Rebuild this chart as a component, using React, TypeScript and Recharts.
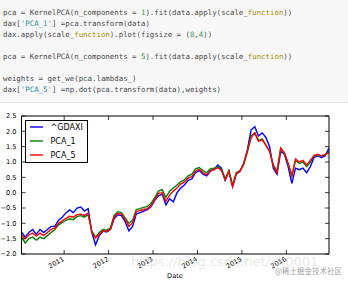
import React from 'react';
import { LineChart, Line, XAxis, YAxis } from 'recharts';

// monthly points, Jan 2010 .. Dec 2016
const startYear = 2010;
const gdaxi = [
  -1.28, -1.45, -1.3, -1.2, -1.35, -1.2, -1.3, -1.2, -1.1, -1.1, -0.9, -0.8,
  -0.66, -0.56, -0.65, -0.5, -0.47, -0.6, -0.52, -1.3, -1.7, -1.4, -1.25, -1.28,
  -1.2, -0.85, -0.72, -0.75, -0.95, -1.25, -1.1, -0.7, -0.65, -0.6, -0.55, -0.45,
  -0.25, -0.1, -0.05, -0.4, -0.2, -0.3, 0.0, 0.15, 0.25, 0.4, 0.45, 0.65,
  0.72, 0.6, 0.55, 0.7, 0.75, 0.9, 0.8, 0.4, 0.7, 0.2, 0.6, 0.7,
  0.95, 1.4, 2.05, 2.15, 1.85, 1.95, 1.8, 1.5, 0.8, 0.6, 1.35, 1.25,
  0.85, 0.3, 0.8, 0.75, 0.8, 0.65, 0.85, 1.15, 1.2, 1.15, 1.2, 1.45,
];
const pca1 = [
  -1.45, -1.64, -1.5, -1.45, -1.55, -1.45, -1.5, -1.4, -1.3, -1.2, -1.05, -0.98,
  -0.9, -0.85, -0.88, -0.78, -0.75, -0.8, -0.72, -1.25, -1.45, -1.3, -1.2, -1.22,
  -1.15, -0.75, -0.62, -0.65, -0.82, -1.0, -0.9, -0.55, -0.52, -0.48, -0.45, -0.35,
  -0.15, 0.05, 0.1, -0.15, 0.05, 0.15, 0.25, 0.35, 0.42, 0.55, 0.6, 0.78,
  0.82, 0.72, 0.65, 0.78, 0.8, 0.85, 0.75, 0.45, 0.72, 0.25, 0.65, 0.72,
  0.95, 1.35, 1.85, 1.95, 1.7, 1.75, 1.55, 1.35, 0.9, 0.7, 1.45, 1.3,
  0.95, 0.55, 1.05, 0.95, 1.0, 0.85, 1.0, 1.2, 1.22, 1.2, 1.22, 1.35,
];
const pca5 = [
  -1.38, -1.5, -1.38, -1.32, -1.42, -1.32, -1.4, -1.3, -1.2, -1.15, -1.0, -0.92,
  -0.84, -0.77, -0.8, -0.72, -0.7, -0.75, -0.66, -1.3, -1.48, -1.35, -1.25, -1.25,
  -1.2, -0.8, -0.68, -0.7, -0.88, -1.1, -0.98, -0.62, -0.58, -0.55, -0.52, -0.42,
  -0.22, -0.02, 0.0, -0.28, -0.08, 0.05, 0.15, 0.28, 0.35, 0.48, 0.52, 0.7,
  0.76, 0.65, 0.58, 0.72, 0.75, 0.82, 0.72, 0.42, 0.7, 0.2, 0.62, 0.7,
  0.92, 1.33, 1.8, 1.95, 1.68, 1.72, 1.55, 1.35, 0.88, 0.65, 1.45, 1.3,
  0.95, 0.55, 1.1, 1.0, 1.05, 0.9, 1.05, 1.22, 1.25, 1.2, 1.25, 1.3,
];
const yearTicks = [2011, 2012, 2013, 2014, 2015, 2016];
const valueTicks = [-2, -1.5, -1, -0.5, 0, 0.5, 1, 1.5, 2, 2.5];
const seriesNames = ['^GDAXI', 'PCA_1', 'PCA_5'];
const seriesColors = ['#0000ff', '#008000', '#ff0000'];

const rows = gdaxi.map((v, i) => ({
  t: startYear + 0.04 + i / 12,
  gdaxi: v,
  pca1: pca1[i],
  pca5: pca5[i],
}));

// code cell text, token colours
const TXT = '#4a4a4a';
const NUM = '#2e9e4f';
const STR = '#2a8fa8';
const KW = '#a59000';
const codeLines: [string, string][][] = [
  [['pca = KernelPCA(n_components = ', TXT], ['1', NUM], [').fit(data.apply(scale_', TXT], ['function', KW], ['))', TXT]],
  [['dax[', TXT], ["'PCA_1'", STR], ['] =pca.transform(data)', TXT]],
  [['dax.apply(scale_', TXT], ['function', KW], [').plot(figsize = (', TXT], ['8', NUM], [',', TXT], ['4', NUM], ['))', TXT]],
  [],
  [['pca = KernelPCA(n_components = ', TXT], ['5', NUM], [').fit(data.apply(scale_', TXT], ['function', KW], ['))', TXT]],
  [],
  [['weights = get_we(pca.lambdas_)', TXT]],
  [['dax[', TXT], ["'PCA_5'", STR], ['] =np.dot(pca.transform(data),weights)', TXT]],
];

const tickFont = { fontFamily: 'DejaVu Sans', fontSize: 6.6, fill: '#000' };

const BottomTick = ({ x, y, payload }: any) => (
  <g>
    <line x1={x} y1={y} x2={x} y2={y - 4} stroke="#000" strokeWidth={0.8} />
    <text
      transform={`translate(${x - 2},${y + 2}) rotate(-30)`}
      textAnchor="end"
      dy="0.75em"
      {...tickFont}
    >
      {payload.value}
    </text>
  </g>
);

const TopTick = ({ x, y }: any) => (
  <line x1={x} y1={y} x2={x} y2={y + 4} stroke="#000" strokeWidth={0.8} />
);

const LeftTick = ({ x, y, payload }: any) => (
  <g>
    <line x1={x} y1={y} x2={x + 4} y2={y} stroke="#000" strokeWidth={0.8} />
    <text x={x - 5} y={y} dy="0.35em" textAnchor="end" {...tickFont}>
      {Number(payload.value).toFixed(1).replace('-', '\u2212')}
    </text>
  </g>
);

const RightTick = ({ x, y }: any) => (
  <line x1={x} y1={y} x2={x - 4} y2={y} stroke="#000" strokeWidth={0.8} />
);

export default function App() {
  const axisLine = { stroke: '#000', strokeWidth: 1 };
  return (
    <div style={{ position: 'absolute', left: 0, top: 0, width: 348, height: 283, background: '#fff', overflow: 'hidden' }}>
      <div
        style={{
          position: 'absolute', left: 0, top: 0, width: 348, height: 102,
          background: '#f7f7f7', borderBottom: '1px solid #e4e4e4',
        }}
      >
        {codeLines.map((line, k) => (
          <div
            key={k}
            style={{
              position: 'absolute', left: 3, top: 7.2 + k * 11, whiteSpace: 'pre',
              fontFamily: 'DejaVu Sans Mono', fontSize: 7.4, lineHeight: '11px',
            }}
          >
            {line.map(([s, c], j) => (
              <span key={j} style={{ color: c }}>{s}</span>
            ))}
          </div>
        ))}
      </div>

      <div style={{ position: 'absolute', left: 0, top: 0 }}>
        <LineChart width={348} height={283} data={rows} margin={{ top: 115, right: 18, bottom: 1, left: 1.5 }}>
          <XAxis
            xAxisId="b" dataKey="t" type="number" domain={[2010.04, 2016.96]} ticks={yearTicks}
            allowDataOverflow height={28} tickSize={0} tickMargin={0} interval={0}
            axisLine={axisLine} tickLine={false} tick={<BottomTick />}
          />
          <XAxis
            xAxisId="t" orientation="top" dataKey="t" type="number" domain={[2010.04, 2016.96]} ticks={yearTicks}
            allowDataOverflow height={1} tickSize={0} tickMargin={0} interval={0}
            axisLine={axisLine} tickLine={false} tick={<TopTick />}
          />
          <YAxis
            yAxisId="l" type="number" domain={[-2, 2.5]} ticks={valueTicks} allowDataOverflow
            width={20} tickSize={0} tickMargin={0} interval={0}
            axisLine={axisLine} tickLine={false} tick={<LeftTick />}
          />
          <YAxis
            yAxisId="r" orientation="right" type="number" domain={[-2, 2.5]} ticks={valueTicks} allowDataOverflow
            width={1} tickSize={0} tickMargin={0} interval={0}
            axisLine={axisLine} tickLine={false} tick={<RightTick />}
          />
          <Line xAxisId="b" yAxisId="l" dataKey="gdaxi" stroke={seriesColors[0]} strokeWidth={1.4} dot={false} isAnimationActive={false} />
          <Line xAxisId="b" yAxisId="l" dataKey="pca1" stroke={seriesColors[1]} strokeWidth={1.4} dot={false} isAnimationActive={false} />
          <Line xAxisId="b" yAxisId="l" dataKey="pca5" stroke={seriesColors[2]} strokeWidth={1.4} dot={false} isAnimationActive={false} />
        </LineChart>
      </div>

      {/* legend box, upper left */}
      <svg style={{ position: 'absolute', left: 25, top: 120 }} width={63} height={43}>
        <rect x={0.5} y={0.5} width={62} height={42} fill="#fff" stroke="#000" strokeWidth={1} />
        {seriesNames.map((n, i) => (
          <g key={n}>
            <line x1={5} x2={18} y1={7 + i * 14} y2={7 + i * 14} stroke={seriesColors[i]} strokeWidth={1.4} />
            <text x={25.5} y={7 + i * 14} dy="0.36em" fontFamily="DejaVu Sans" fontSize={8} fill="#000">{n}</text>
          </g>
        ))}
      </svg>

      <div style={{ position: 'absolute', left: 0, width: 350, top: 272, textAlign: 'center', fontFamily: 'DejaVu Sans', fontSize: 6.6, color: '#000' }}>
        Date
      </div>

      {/* watermarks */}
      <div style={{ position: 'absolute', left: 131, top: 254, fontFamily: 'DejaVu Sans', fontSize: 13, color: 'rgba(200,200,200,0.45)', whiteSpace: 'nowrap' }}>
        https://blog.csdn.net/xk0001
      </div>
      <div style={{ position: 'absolute', left: 275, top: 265, fontFamily: 'Noto Sans CJK SC', fontSize: 7.5, color: 'rgba(120,120,120,0.75)', whiteSpace: 'nowrap' }}>
        @稀土掘金技术社区
      </div>
    </div>
  );
}
